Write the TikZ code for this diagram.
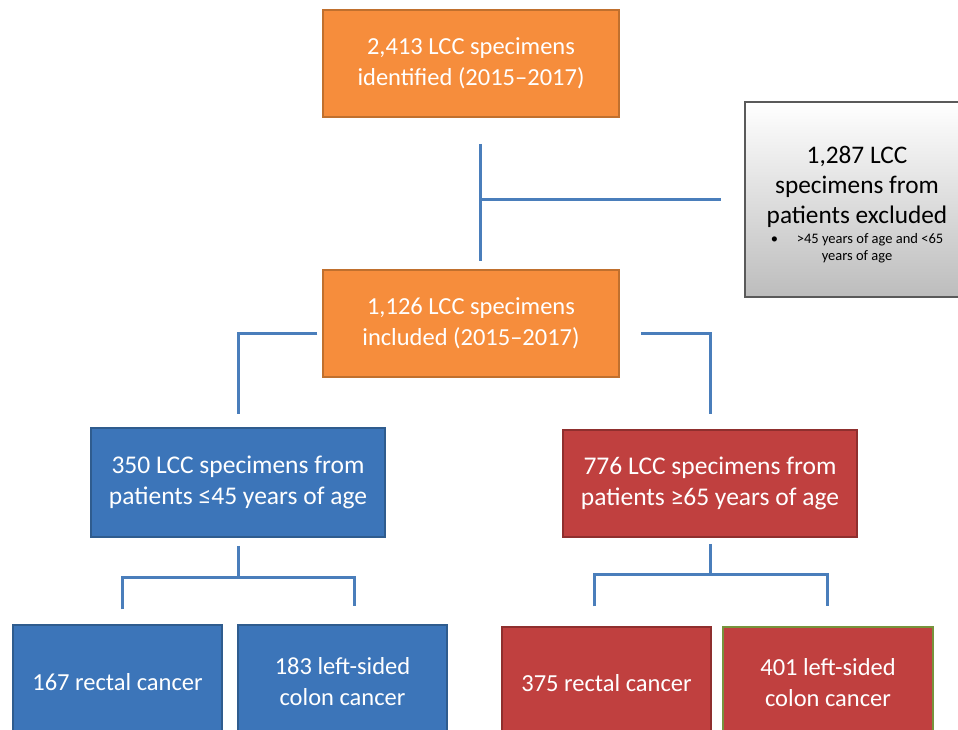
\documentclass[tikz,border=0pt]{standalone}
\usepackage{fontspec}
\setmainfont{Carlito}
\usepackage{tikz}
\usetikzlibrary{positioning, calc}
\definecolor{fcOrange}{HTML}{F68D3C}
\definecolor{fcOrangeD}{HTML}{C0702E}
\definecolor{fcBlue}{HTML}{3C75B9}
\definecolor{fcBlueD}{HTML}{2F5C8E}
\definecolor{fcRed}{HTML}{C0403F}
\definecolor{fcRedD}{HTML}{8F2F2E}
\definecolor{fcGreen}{HTML}{77933C}
\definecolor{fcLink}{HTML}{4A7EBB}
\definecolor{fcGrayD}{HTML}{5A5A5A}
\tikzset{
  fcbox/.style={
    draw, line width=1.5pt, minimum width=296pt, minimum height=107pt,
    font=\fontsize{24.5}{31}\selectfont, align=center, text=white, inner sep=0pt
  },
  orangebox/.style={fcbox, fill=fcOrange, draw=fcOrangeD},
  bluebox/.style={fcbox, fill=fcBlue, draw=fcBlueD},
  redbox/.style={fcbox, fill=fcRed, draw=fcRedD},
  leafbox/.style={minimum width=209pt, minimum height=114pt},
  exclbox/.style={
    draw=fcGrayD, line width=1.5pt, minimum width=224pt, minimum height=195pt,
    top color=white, bottom color=black!26, inner sep=0pt, text=black
  },
  link/.style={line width=3pt, fcLink}
}

\begin{document}
\begin{tikzpicture}[x=1pt, y=-1pt]
  \useasboundingbox (0,0) rectangle (958,729);
  \clip (0,0) rectangle (958,729);
  % boxes
  \node[orangebox] (top) at (471,63.5) {2,413 LCC specimens\\identified (2015--2017)};
  \node[orangebox] (mid) at (471,323.5) {1,126 LCC specimens\\included (2015--2017)};
  \node[exclbox] (excl) at (857,199.5) {\parbox{220pt}{\centering
      \vspace*{10pt}
      \fontsize{25.3}{30}\selectfont 1,287 LCC\\specimens from\\patients excluded\par
      \vspace{4pt}
      \fontsize{14.5}{16.5}\selectfont\textbullet\hspace{1.3em}>45 years of age and <65\\years of age\par}};
  \node[bluebox, minimum width=294pt, minimum height=109pt, font=\fontsize{25.5}{31}\selectfont] (lt) at (238,482.5) {350 LCC specimens from\\patients ≤45 years of age};
  \node[redbox, minimum width=294pt, font=\fontsize{25.5}{31}\selectfont] (rt) at (710,483.5) {776 LCC specimens from\\patients ≥65 years of age};
  \node[bluebox, leafbox] (b1) at (117.5,682) {167 rectal cancer};
  \node[bluebox, leafbox] (b2) at (342.5,682) {183 left-sided\\colon cancer};
  \node[redbox, leafbox, minimum height=112pt] (r1) at (606.5,683) {375 rectal cancer};
  \node[redbox, leafbox, minimum height=112pt, minimum width=210pt, draw=fcGreen] (r2) at (828,683) {401 left-sided\\colon cancer};
  % connectors
  \draw[link] ([shift={(9pt,-26pt)}]top.south) -- ([shift={(9pt,8pt)}]mid.north);
  \draw[link] ([xshift=9pt]top.south |- excl.west) -- ([xshift=-23pt]excl.west);
  \draw[link] ([shift={(-5pt,-10pt)}]mid.west) -| ([yshift=13pt]lt.north);
  \draw[link] ([shift={(21pt,-10pt)}]mid.east) -| ([yshift=15pt]rt.north);
  \draw[link] ([yshift=-8pt]lt.south) -- ([yshift=-40pt]lt.south);
  \draw[link] ([shift={(5pt,15pt)}]b1.north) |- ([yshift=-40pt]lt.south)
    -| ([shift={(12pt,18pt)}]b2.north);
  \draw[link] ([yshift=-6pt]rt.south) -- ([yshift=-37pt]rt.south);
  \draw[link] ([shift={(-12.5pt,20pt)}]r1.north) |- ([yshift=-37pt]rt.south)
    -| ([shift={(-1pt,20pt)}]r2.north);
\end{tikzpicture}
\end{document}
